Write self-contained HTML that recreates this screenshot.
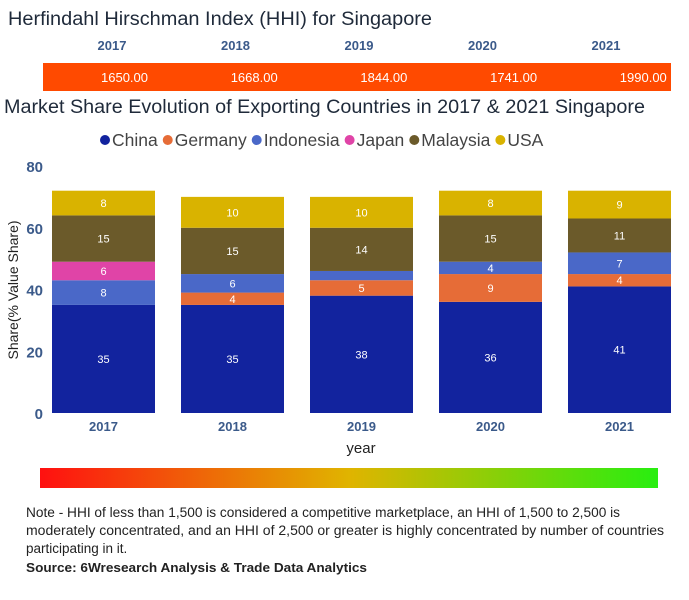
<!DOCTYPE html>
<html><head><meta charset="utf-8"><style>
body{margin:0;background:#fff;width:689px;height:600px;overflow:hidden;font-family:"Liberation Sans",sans-serif}
svg{display:block}
</style></head><body>
<svg id="chart" width="689" height="600">
<text x="8" y="25" font-size="19" fill="#1f2a3a" textLength="424" lengthAdjust="spacingAndGlyphs">Herfindahl Hirschman Index (HHI) for Singapore</text>
<g id="hhi"></g>
<text x="4" y="113" font-size="19" fill="#1f2a3a" textLength="641" lengthAdjust="spacingAndGlyphs">Market Share Evolution of Exporting Countries in 2017 &amp; 2021 Singapore</text>
<g id="legend"></g>
<g id="yaxis"></g>
<text transform="translate(18,290) rotate(-90)" text-anchor="middle" font-size="14" fill="#222">Share(% Value Share)</text>
<g id="bars"></g>
<g id="xaxis"></g>
<text x="361" y="453" text-anchor="middle" font-size="15" fill="#222">year</text>
<defs><linearGradient id="grad" x1="0" x2="1" y1="0" y2="0">
<stop offset="0" stop-color="#ff1010"/><stop offset="0.5" stop-color="#e0b400"/><stop offset="1" stop-color="#28ee10"/></linearGradient></defs>
<rect x="40" y="468" width="618" height="20" fill="url(#grad)"/>
<text font-size="13.5" fill="#222">
<tspan x="26" y="517" textLength="594" lengthAdjust="spacingAndGlyphs">Note - HHI of less than 1,500 is considered a competitive marketplace, an HHI of 1,500 to 2,500 is</tspan>
<tspan x="26" y="535" textLength="638" lengthAdjust="spacingAndGlyphs">moderately concentrated, and an HHI of 2,500 or greater is highly concentrated by number of countries</tspan>
<tspan x="26" y="553">participating in it.</tspan></text>
<text x="26" y="572" font-size="13" font-weight="bold" fill="#222" textLength="341" lengthAdjust="spacingAndGlyphs">Source: 6Wresearch Analysis &amp; Trade Data Analytics</text>
</svg>
<script>
const years=["2017","2018","2019","2020","2021"];
const hhiValues=[1650,1668,1844,1741,1990];
const seriesNames=["China","Germany","Indonesia","Japan","Malaysia","USA"];
const seriesColors=["#12239e","#e66c37","#4a68c8","#e044a7","#6b5a2a","#d9b300"];
const china=[35,35,38,36,41];
const germany=[0,4,5,9,4];
const indonesia=[8,6,3,4,7];
const japan=[6,0,0,0,0];
const malaysia=[15,15,14,15,11];
const usa=[8,10,10,8,9];
const yTicks=[0,20,40,60,80];
const series=[china,germany,indonesia,japan,malaysia,usa];
const NS="http://www.w3.org/2000/svg";
function mk(tag,attrs,parent,text){const e=document.createElementNS(NS,tag);for(const k in attrs)e.setAttribute(k,attrs[k]);if(text!==undefined)e.textContent=text;parent.appendChild(e);return e;}
const y0=413,yTop=166,yMax=80;
const yScale=v=>y0-(v/yMax)*(y0-yTop);
const bandX=i=>52+i*129, bw=103;
const hhi=document.getElementById('hhi');
const hr=mk('rect',{x:43,y:63,width:628,height:28,fill:'#ff4a00'},hhi);


years.forEach((y,i)=>{
  const t=mk('text',{x:112+i*123.5,y:50,'text-anchor':'middle','font-size':13,'font-weight':'bold',fill:'#3b5a8a'},hhi,y);
  
  
  const v=mk('text',{x:148+i*129.7,y:82,'text-anchor':'end','font-size':13,fill:'#fff'},hhi,hhiValues[i].toFixed(2));
  
  
});
const lg=document.getElementById('legend');
let lx=100;
seriesNames.forEach((n,i)=>{
  const g=mk('g',{},lg);
  
  
  mk('circle',{cx:lx+5,cy:140,r:5,fill:seriesColors[i]},g);
  const t=mk('text',{x:lx+12,y:146,'font-size':17.5,fill:'#444'},g,n);
  lx+=12+t.getComputedTextLength()+5;
});
const ya=document.getElementById('yaxis');
yTicks.forEach(v=>{
  const t=mk('text',{x:43,y:yScale(v)+6,'text-anchor':'end','font-size':15,'font-weight':'bold',fill:'#3b5a8a'},ya,v);
  
  
});
const bars=document.getElementById('bars');
const xa=document.getElementById('xaxis');
years.forEach((yr,i)=>{
  let acc=0;
  series.forEach((s,k)=>{
    const v=s[i]; if(!v) return;
    const top=yScale(acc+v),bot=yScale(acc);
    const r=mk('rect',{x:bandX(i),y:top,width:bw,height:bot-top,fill:seriesColors[k]},bars);
    
    
    if(v>=4){
      const t=mk('text',{x:bandX(i)+bw/2,y:(top+bot)/2+4,'text-anchor':'middle','font-size':11,fill:'#fff'},bars,v);
      
      
    }
    acc+=v;
  });
  const t=mk('text',{x:bandX(i)+bw/2,y:431,'text-anchor':'middle','font-size':13,'font-weight':'bold',fill:'#3b5a8a'},xa,yr);
  
  
});
</script>
</body></html>
